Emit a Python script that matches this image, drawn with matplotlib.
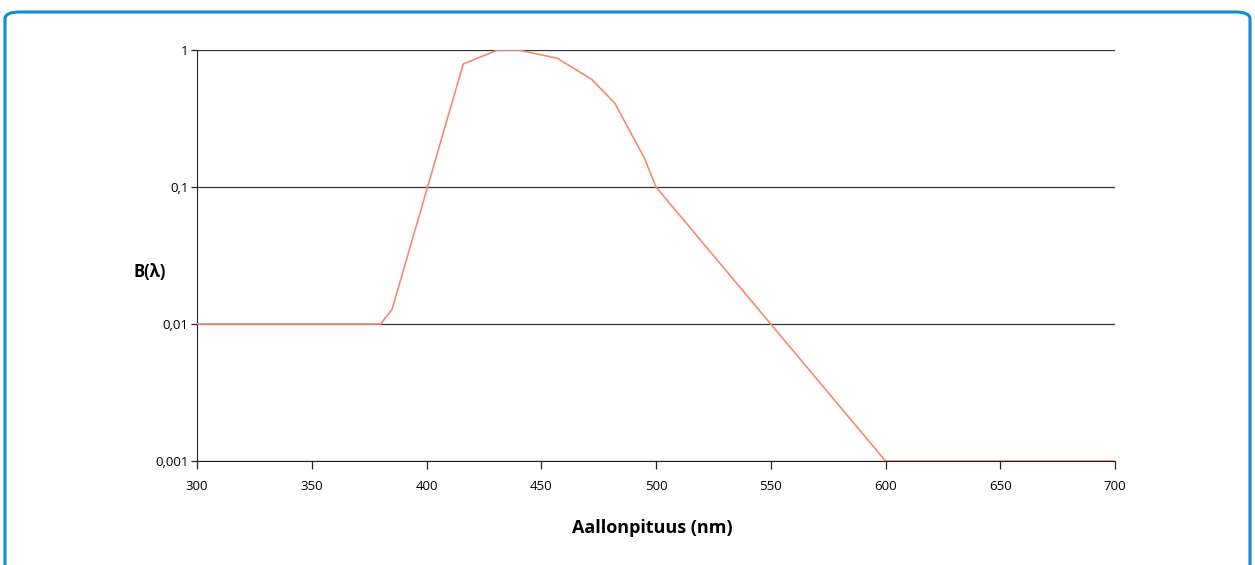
import matplotlib
matplotlib.use("Agg")
import matplotlib.pyplot as plt
from matplotlib.patches import FancyBboxPatch

# wavelength (nm) and B(lambda)
wavelength = [300, 380, 385, 416, 431, 440, 457, 472, 482, 495, 500, 550, 600, 700]
b_lambda = [0.01, 0.01, 0.0128, 0.79, 1.0, 1.0, 0.87, 0.61, 0.41, 0.162, 0.1, 0.01, 0.001, 0.001]

x_ticks = [300, 350, 400, 450, 500, 550, 600, 650, 700]
y_ticks = [0.001, 0.01, 0.1, 1]
y_tick_labels = ['0,001', '0,01', '0,1', '1']

plt.rcParams['font.family'] = ['Open Sans', 'DejaVu Sans']

W, H = 1255, 565
fig = plt.figure(figsize=(W / 100, H / 100), dpi=100)

# blue rounded frame around the chart
frame = FancyBboxPatch((5 / W, -0.1), 1245 / W, (H - 12) / H + 0.1,
                       boxstyle="round,pad=0,rounding_size=0.012",
                       transform=fig.transFigure, fill=False,
                       edgecolor='#0a8fcc', linewidth=2.2, clip_on=False)
fig.patches.append(frame)

ax = fig.add_axes([197 / W, 1 - 461 / H, (1115 - 197) / W, (461 - 50) / H])
ax.plot(wavelength, b_lambda, color='#f58b6c', linewidth=1.2, zorder=3)

ax.set_yscale('log')
ax.set_xlim(300, 700)
ax.set_ylim(0.001, 1)
ax.set_xticks(x_ticks)
ax.set_xticklabels([str(t) for t in x_ticks], fontsize=9.5)
ax.set_yticks(y_ticks)
ax.set_yticklabels(y_tick_labels, fontsize=9.5)
ax.minorticks_off()
ax.tick_params(axis='x', direction='out', length=6, width=0.9, color='#222222', pad=8)
ax.tick_params(axis='y', direction='out', length=4, width=0.9, color='#222222', pad=2)

for y in y_ticks:
    ax.axhline(y, color='#333333', linewidth=0.9, zorder=1)

ax.spines['top'].set_visible(False)
ax.spines['right'].set_visible(False)
ax.spines['left'].set_color('#222222')
ax.spines['bottom'].set_color('#222222')

fig.text(652 / W, 1 - 528 / H, 'Aallonpituus (nm)', ha='center', va='center',
         fontsize=13, fontweight='bold')
fig.text(150 / W, 1 - 272 / H, 'B(λ)', ha='center', va='center',
         fontsize=12, fontweight='bold')

fig.savefig('out.png', dpi=100)
